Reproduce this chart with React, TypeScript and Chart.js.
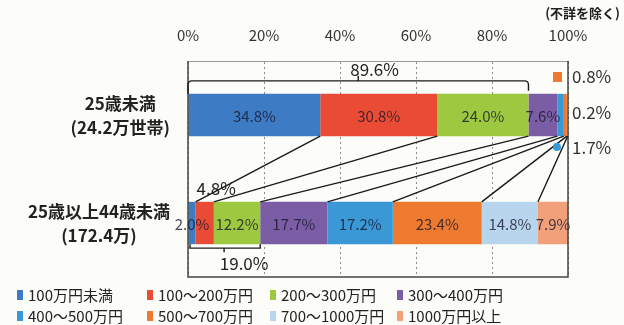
import React, { useEffect, useRef } from "react";
import { Chart, registerables } from "chart.js";

Chart.register(...registerables);

// Household income distribution by age of household head (percent, unknowns excluded)
const categories: string[][] = [
  ["25歳未満", "(24.2万世帯)"],
  ["25歳以上44歳未満", "(172.4万)"],
];
const seriesNames = [
  "100万円未満",
  "100～200万円",
  "200～300万円",
  "300～400万円",
  "400～500万円",
  "500～700万円",
  "700～1000万円",
  "1000万円以上",
];
const under25 = [34.8, 30.8, 24.0, 7.6, 1.7, 0.8, 0.2, 0];
const age25to44 = [2.0, 4.8, 12.2, 17.7, 17.2, 23.4, 14.8, 7.9];
const seriesColors = [
  "#3D7BC4",
  "#E94B35",
  "#9CC93F",
  "#7B5DA6",
  "#3A98D6",
  "#EE7A2F",
  "#B8D5EE",
  "#F1A07A",
];
const xTicks = [0, 20, 40, 60, 80, 100];
const noteText = "(不詳を除く)";

const FONT = '"Noto Sans CJK JP", "Noto Sans", sans-serif';
const INK = "#222";

const rows = [under25, age25to44];
const cumulative = (vals: number[]) => {
  let s = 0;
  return vals.map((v) => Math.round((s += v) * 10) / 10);
};
const fmt = (v: number) => v.toFixed(1) + "%";

const overlay = {
  id: "overlay",
  beforeDraw(chart: any) {
    const { ctx, width, height } = chart;
    ctx.save();
    ctx.fillStyle = "#FCFCF9";
    ctx.fillRect(0, 0, width, height);
    ctx.restore();
  },
  afterDatasetsDraw(chart: any) {
    const { ctx, chartArea } = chart;
    const xs = chart.scales.x;
    const metas = seriesNames.map((_, i) => chart.getDatasetMeta(i).data);
    const barOf = (cat: number) => {
      const el = metas[0][cat];
      return { top: el.y - el.height / 2, bottom: el.y + el.height / 2, cy: el.y };
    };
    const b0 = barOf(0);
    const b1 = barOf(1);

    ctx.save();
    // plot frame (left, right, bottom)
    ctx.strokeStyle = "#444";
    ctx.lineWidth = 1.5;
    ctx.beginPath();
    ctx.moveTo(chartArea.left, chartArea.top);
    ctx.lineTo(chartArea.left, chartArea.bottom);
    ctx.lineTo(chartArea.right, chartArea.bottom);
    ctx.lineTo(chartArea.right, chartArea.top);
    ctx.stroke();

    // connector lines between matching segment boundaries
    const c0 = cumulative(under25);
    const c1 = cumulative(age25to44);
    ctx.strokeStyle = "#1a1a1a";
    ctx.lineWidth = 1.4;
    for (let k = 0; k < seriesNames.length - 1; k++) {
      ctx.beginPath();
      ctx.moveTo(xs.getPixelForValue(c0[k]), b0.bottom);
      ctx.lineTo(xs.getPixelForValue(c1[k]), b1.top);
      ctx.stroke();
    }

    // bracket over the first three bands of the under-25 bar
    const x0 = xs.getPixelForValue(0);
    const top3 = c0[2];
    const xe = xs.getPixelForValue(top3);
    const by = b0.top - 13;
    const r = 4;
    ctx.beginPath();
    ctx.moveTo(x0, b0.top);
    ctx.lineTo(x0, by + r);
    ctx.quadraticCurveTo(x0, by, x0 + r, by);
    ctx.lineTo(xe - r, by);
    ctx.quadraticCurveTo(xe, by, xe, by + r);
    ctx.lineTo(xe, b0.top - 3);
    const tm = (x0 + xe) / 2;
    ctx.moveTo(tm, by);
    ctx.lineTo(tm, by - 5);
    ctx.stroke();

    // bracket under the first three bands of the 25-44 bar
    const bot3 = c1[2];
    const xe2 = xs.getPixelForValue(bot3);
    const by2 = b1.bottom + 4;
    const tm2 = (x0 + xe2) / 2;
    ctx.beginPath();
    ctx.moveTo(x0 + 2, b1.bottom);
    ctx.lineTo(x0 + 2, by2);
    ctx.lineTo(xe2, by2);
    ctx.lineTo(xe2, b1.bottom);
    ctx.moveTo(tm2, by2);
    ctx.lineTo(tm2, by2 + 4);
    ctx.stroke();

    ctx.fillStyle = INK;
    ctx.font = `17px ${FONT}`;
    ctx.textBaseline = "middle";
    ctx.textAlign = "left";
    ctx.fillText(fmt(top3), tm - 8, by - 11);
    ctx.textAlign = "center";
    ctx.fillText(fmt(bot3), tm2 + 20, by2 + 15);

    // values inside the segments
    ctx.font = `15px ${FONT}`;
    ctx.fillStyle = "rgba(25,25,45,0.8)";
    rows.forEach((vals, cat) => {
      vals.forEach((v, s) => {
        if (v < 2 || (cat === 1 && s === 1)) return;
        const el = metas[s][cat];
        ctx.textAlign = "center";
        ctx.fillText(fmt(v), (el.x + el.base) / 2, el.y + 1);
      });
    });

    // callout above the small band of the 25-44 bar
    const small = metas[1][1];
    ctx.fillStyle = INK;
    ctx.font = `17px ${FONT}`;
    ctx.textAlign = "left";
    ctx.fillText(fmt(age25to44[1]), small.base + 1, b1.top - 13);

    // side labels for the thin bands of the under-25 bar
    const side = [
      { s: 5, dy: -38, mark: "square" },
      { s: 6, dy: -2, mark: "" },
      { s: 4, dy: 33, mark: "dot" },
    ];
    side.forEach(({ s, dy, mark }) => {
      const y = b0.cy + dy;
      ctx.fillStyle = seriesColors[s];
      if (mark === "square") ctx.fillRect(chartArea.right - 15, y - 5, 9, 10);
      if (mark === "dot") {
        ctx.beginPath();
        ctx.arc(chartArea.right - 11, y - 1, 4, 0, Math.PI * 2);
        ctx.fill();
      }
      ctx.fillStyle = "#333";
      ctx.textAlign = "left";
      ctx.fillText(fmt(under25[s]), chartArea.right + 4, y);
    });

    // category labels, each block centred on its widest line
    ctx.font = `bold 17px ${FONT}`;
    ctx.fillStyle = INK;
    ctx.textAlign = "center";
    [b0, b1].forEach((b, cat) => {
      const lines = categories[cat];
      const w = Math.max(...lines.map((l) => ctx.measureText(l).width));
      const cx = chartArea.left - 18 - w / 2;
      ctx.fillText(lines[0], cx, b.cy - 11);
      ctx.fillText(lines[1], cx, b.cy + 13);
    });
    ctx.restore();
  },
  afterDraw(chart: any) {
    const { ctx, chartArea } = chart;
    ctx.save();
    // note at top right
    ctx.font = `bold 13px ${FONT}`;
    ctx.fillStyle = INK;
    ctx.textAlign = "right";
    ctx.textBaseline = "middle";
    ctx.fillText(noteText, chartArea.right + 52, 13);

    // legend, two rows of four
    const cols = [17, 147, 270, 397];
    const rowsY = [295, 316];
    ctx.font = `15px ${FONT}`;
    ctx.textAlign = "left";
    seriesNames.forEach((name, i) => {
      const x = cols[i % 4];
      const y = rowsY[Math.floor(i / 4)];
      ctx.fillStyle = seriesColors[i];
      ctx.fillRect(x, y - 5, 6, 10);
      ctx.fillStyle = INK;
      ctx.fillText(name, x + 11, y);
    });
    ctx.restore();
  },
};

export default function App() {
  const ref = useRef<HTMLCanvasElement | null>(null);

  useEffect(() => {
    document.body.style.margin = "0";
    if (!ref.current) return;
    const chart = new Chart(ref.current, {
      type: "bar",
      data: {
        labels: categories.map((c) => c.join(" ")),
        datasets: seriesNames.map((name, i) => ({
          label: name,
          data: rows.map((r) => r[i]),
          backgroundColor: seriesColors[i],
          borderWidth: 0,
          barPercentage: 0.8,
          categoryPercentage: 0.49,
        })),
      },
      options: {
        indexAxis: "y",
        responsive: false,
        animation: false,
        layout: { padding: { left: 188, right: 56, top: 0, bottom: 48 } },
        plugins: { legend: { display: false }, tooltip: { enabled: false } },
        scales: {
          x: {
            position: "top",
            stacked: true,
            min: 0,
            max: 100,
            afterBuildTicks: (s: any) => {
              s.ticks = xTicks.map((v) => ({ value: v }));
            },
            afterFit: (s: any) => {
              s.height = 61;
            },
            ticks: {
              padding: 17,
              color: "#333",
              font: { family: FONT, size: 15 },
              callback: (v: any) => v + "%",
            },
            grid: { color: "#8a8a8a", drawTicks: false, lineWidth: 1 },
            border: { display: true, color: "#9a9a9a", dash: [2, 3] },
          },
          y: { stacked: true, display: false },
        },
      },
      plugins: [overlay],
    });
    return () => chart.destroy();
  }, []);

  return <canvas ref={ref} width={624} height={325} style={{ display: "block" }} />;
}
